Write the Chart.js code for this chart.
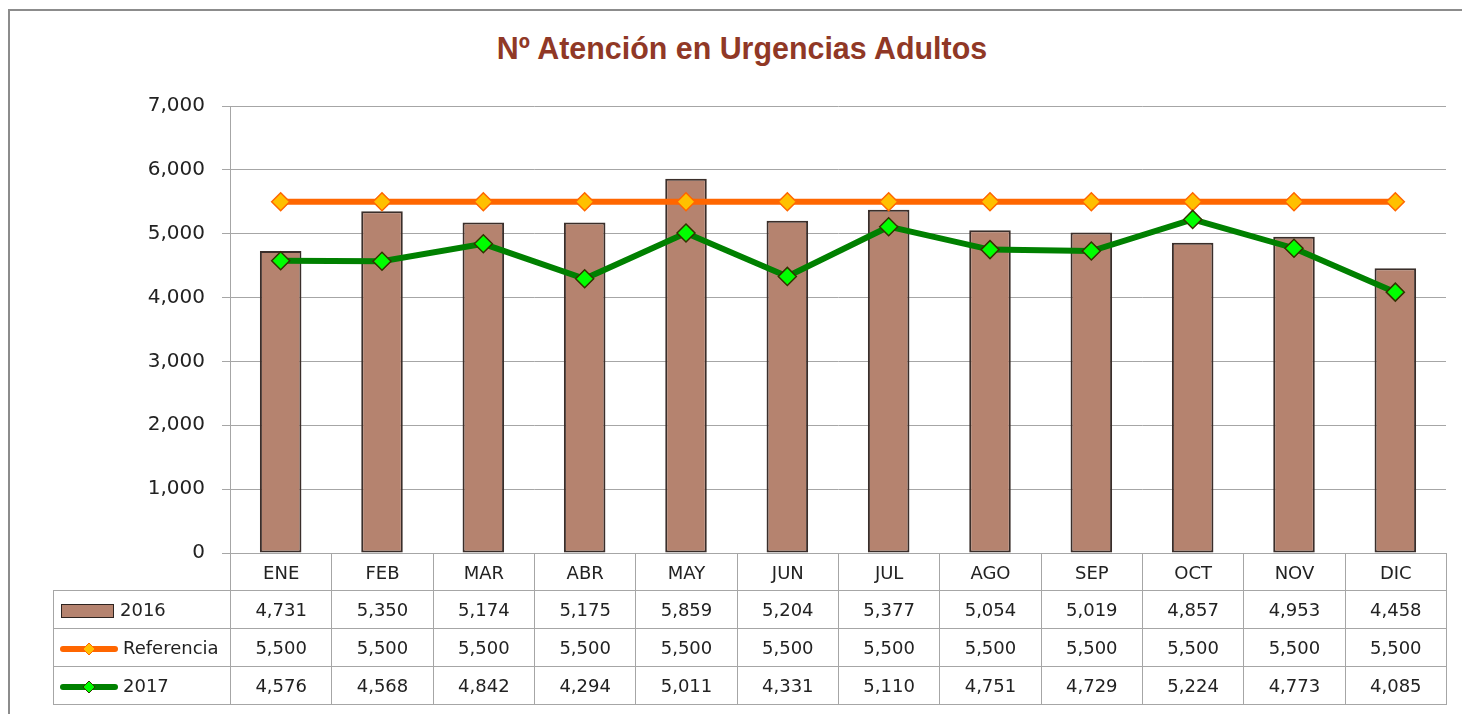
<!DOCTYPE html>
<html>
<head>
<meta charset="utf-8">
<script src="https://cdn.jsdelivr.net/npm/chart.js@4.4.1/dist/chart.umd.min.js"></script>
<style>
    html, body { margin: 0; padding: 0; background: #fff; }
    #contenedor { position: relative; width: 1462px; height: 714px; overflow: hidden; }
    #marco { position: absolute; left: 8px; top: 9px; width: 1600px; height: 900px; border: 2px solid #8c8c8c; box-sizing: border-box; }
    #titulo { position: absolute; left: 0; width: 1484px; top: 30px; text-align: center; line-height: 36px;
              font: bold 32px 'Liberation Sans Narrow', 'Liberation Sans', Arial, sans-serif; color: #903826;
              transform: scaleX(0.95); transform-origin: 742px 0; }
    canvas { position: absolute; left: 0; top: 0; }
    #tabla { position: absolute; border-collapse: collapse; table-layout: fixed;
             font: 18px 'DejaVu Sans', Verdana, sans-serif; color: #222; }
    #tabla td { border: 1px solid #a6a6a6; text-align: center; padding: 0; white-space: nowrap; overflow: hidden; }
    #tabla td.vacia { border-top: none; border-left: none; }
    #tabla td.leyenda { text-align: left; padding-left: 5px; }
    #tabla td.leyenda svg, #tabla td.leyenda span.caja { vertical-align: middle; margin-right: 4px; }
    span.caja { display: inline-block; width: 51px; height: 12px; background: #b5836f; border: 1px solid #2e2420; margin-left: 2px; margin-right: 6px !important; }
</style>
</head>
<body>
<div id="contenedor">
    <div id="marco"></div>
    <div id="titulo">Nº Atención en Urgencias Adultos</div>
    <canvas id="grafico" width="1462" height="714"></canvas>
    <table id="tabla"></table>
</div>
<script>
const meses = ['ENE', 'FEB', 'MAR', 'ABR', 'MAY', 'JUN', 'JUL', 'AGO', 'SEP', 'OCT', 'NOV', 'DIC'];
const atenciones2016 = [4731, 5350, 5174, 5175, 5859, 5204, 5377, 5054, 5019, 4857, 4953, 4458];
const referencia = [5500, 5500, 5500, 5500, 5500, 5500, 5500, 5500, 5500, 5500, 5500, 5500];
const atenciones2017 = [4576, 4568, 4842, 4294, 5011, 4331, 5110, 4751, 4729, 5224, 4773, 4085];
const ejeYMax = 7000;
const ejeYPaso = 1000;

const formato = v => Number(v).toLocaleString('en-US');

const ctx = document.getElementById('grafico').getContext('2d');
const grafico = new Chart(ctx, {
    type: 'bar',
    data: {
        labels: meses,
        datasets: [
            {
                type: 'line',
                label: '2017',
                data: atenciones2017,
                borderColor: '#008000',
                borderWidth: 6,
                tension: 0,
                pointStyle: 'rectRot',
                pointRadius: 9,
                pointBackgroundColor: '#00ff00',
                pointBorderColor: '#333300',
                pointBorderWidth: 1.5,
                order: 0
            },
            {
                type: 'line',
                label: 'Referencia',
                data: referencia,
                borderColor: '#ff6600',
                borderWidth: 6,
                tension: 0,
                pointStyle: 'rectRot',
                pointRadius: 9,
                pointBackgroundColor: '#ffc000',
                pointBorderColor: '#ff6600',
                pointBorderWidth: 1.5,
                order: 1
            },
            {
                label: '2016',
                data: atenciones2016,
                backgroundColor: '#b5836f',
                borderColor: '#3a2e2a',
                borderWidth: 2,
                borderSkipped: false,
                barPercentage: 0.41,
                categoryPercentage: 1,
                order: 2
            }
        ]
    },
    options: {
        responsive: false,
        animation: false,
        layout: { padding: { top: 106, right: 16, bottom: 161, left: 0 } },
        plugins: {
            legend: { display: false },
            tooltip: { enabled: false },
            title: { display: false }
        },
        scales: {
            x: { display: false, offset: true },
            y: {
                min: 0,
                max: ejeYMax,
                ticks: {
                    stepSize: ejeYPaso,
                    padding: 17,
                    color: '#222',
                    font: { family: 'DejaVu Sans', size: 20 },
                    callback: v => formato(v)
                },
                grid: { color: '#a6a6a6', tickLength: 8 },
                border: { color: '#a6a6a6' },
                afterFit: escala => { escala.width = 230; }
            }
        }
    }
});

// Tabla de datos debajo del gráfico, alineada con las categorías
function muestraLinea(color, relleno, borde) {
    return `<svg width="60" height="16"><line x1="4" y1="8" x2="56" y2="8" stroke="${color}" stroke-width="6" stroke-linecap="round"/>` +
           `<polygon points="30,2 36,8 30,14 24,8" fill="${relleno}" stroke="${borde}" stroke-width="1"/></svg>`;
}

const area = grafico.chartArea;
const anchoCol = (area.right - area.left) / meses.length;
const izquierdaTabla = 53;
const tabla = document.getElementById('tabla');
tabla.style.left = izquierdaTabla + 'px';
tabla.style.top = Math.round(area.bottom) + 'px';
tabla.style.width = (area.right - izquierdaTabla + 1) + 'px';

let html = `<colgroup><col style="width:${area.left - izquierdaTabla}px">` +
    meses.map(() => `<col style="width:${anchoCol}px">`).join('') + '</colgroup>';
html += '<tr style="height:37px"><td class="vacia"></td>' + meses.map(m => `<td>${m}</td>`).join('') + '</tr>';
const filas = [
    { etiqueta: '<span class="caja"></span>2016', valores: atenciones2016 },
    { etiqueta: muestraLinea('#ff6600', '#ffc000', '#ff6600') + 'Referencia', valores: referencia },
    { etiqueta: muestraLinea('#008000', '#00ff00', '#333300') + '2017', valores: atenciones2017 }
];
filas.forEach(f => {
    html += `<tr style="height:38px"><td class="leyenda">${f.etiqueta}</td>` +
        f.valores.map(v => `<td>${formato(v)}</td>`).join('') + '</tr>';
});
tabla.innerHTML = html;
</script>
</body>
</html>
